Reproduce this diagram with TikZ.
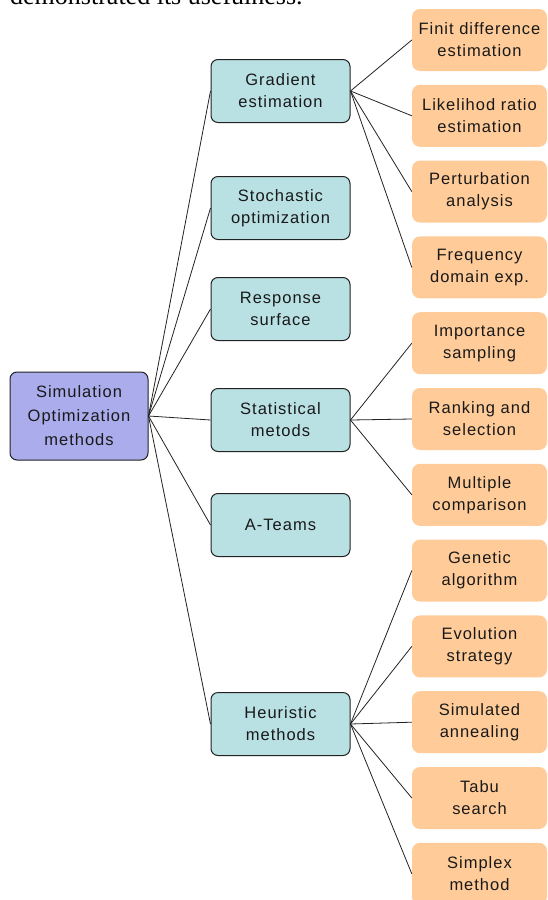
\documentclass[tikz,border=0pt]{standalone}
\usepackage{fontspec}
\setmainfont{Liberation Sans}
\newfontfamily\boxfont[LetterSpace=6]{Liberation Sans}
\newfontfamily\pagefont{Liberation Serif}
\definecolor{rootblue}{HTML}{AAACEC}
\definecolor{midteal}{HTML}{B9E0E3}
\definecolor{leaforange}{HTML}{FFCC99}
\definecolor{edgegray}{HTML}{222222}

\begin{document}
\begin{tikzpicture}[x=1pt, y=-1pt,
	rootbox/.style={draw=edgegray, line width=1pt, fill=rootblue, rounded corners=7pt, inner sep=0pt, minimum width=138pt, minimum height=88pt, align=center, font=\boxfont\fontsize{16.5}{24}\selectfont, text=black!90},
	midbox/.style={draw=edgegray, line width=1pt, fill=midteal, rounded corners=7pt, inner sep=0pt, minimum width=139pt, minimum height=63pt, align=center, font=\boxfont\fontsize{16.5}{22}\selectfont, text=black!90},
	leafbox/.style={fill=leaforange, rounded corners=8pt, inner sep=0pt, minimum width=135pt, minimum height=62pt, align=center, font=\boxfont\fontsize{16.5}{22}\selectfont, text=black!90},
	link/.style={draw=edgegray, line width=0.8pt}]
	\useasboundingbox (0,0) rectangle (548,900);
	\clip (0,0) rectangle (548,900);
	% cut-off line of the page above the figure
	\node[anchor=base west, inner sep=0pt, font=\pagefont\fontsize{26}{30}\selectfont] (pagetext) at (10,4.5) {demonstrated its usefulness.};
	% root
	\node[rootbox] (sim) at (79,416) {Simulation\\Optimization\\methods};
	% method groups
	\node[midbox] (grad) at (280.5,91) {Gradient\\estimation};
	\node[midbox] (stoch) at (280.5,208) {Stochastic\\optimization};
	\node[midbox] (resp) at (280.5,309) {Response\\surface};
	\node[midbox] (stat) at (280.5,420) {Statistical\\metods};
	\node[midbox] (ateam) at (280.5,525) {A-Teams};
	\node[midbox] (heur) at (280.5,724) {Heuristic\\methods};
	% single methods
	\node[leafbox] (finit) at (479.5,40) {Finit difference\\estimation};
	\node[leafbox] (likel) at (479.5,115.8) {Likelihod ratio\\estimation};
	\node[leafbox] (pert) at (479.5,191.6) {Perturbation\\analysis};
	\node[leafbox] (freq) at (479.5,267.4) {Frequency\\domain exp.};
	\node[leafbox] (impo) at (479.5,343.2) {Importance\\sampling};
	\node[leafbox] (rank) at (479.5,419) {Ranking and\\selection};
	\node[leafbox] (mult) at (479.5,494.8) {Multiple\\comparison};
	\node[leafbox] (genet) at (479.5,570.6) {Genetic\\algorithm};
	\node[leafbox] (evol) at (479.5,646.4) {Evolution\\strategy};
	\node[leafbox] (anneal) at (479.5,722.2) {Simulated\\annealing};
	\node[leafbox] (tabu) at (479.5,798) {Tabu\\search};
	\node[leafbox] (simplex) at (479.5,873.8) {Simplex\\method};
	% connectors
	\foreach \m in {grad, stoch, resp, stat, ateam, heur}
		\draw[link] (sim.east) -- (\m.west);
	\foreach \l in {finit, likel, pert, freq}
		\draw[link] (grad.east) -- (\l.west);
	\foreach \l in {impo, rank, mult}
		\draw[link] (stat.east) -- (\l.west);
	\foreach \l in {genet, evol, anneal, tabu, simplex}
		\draw[link] (heur.east) -- (\l.west);
\end{tikzpicture}
\end{document}
